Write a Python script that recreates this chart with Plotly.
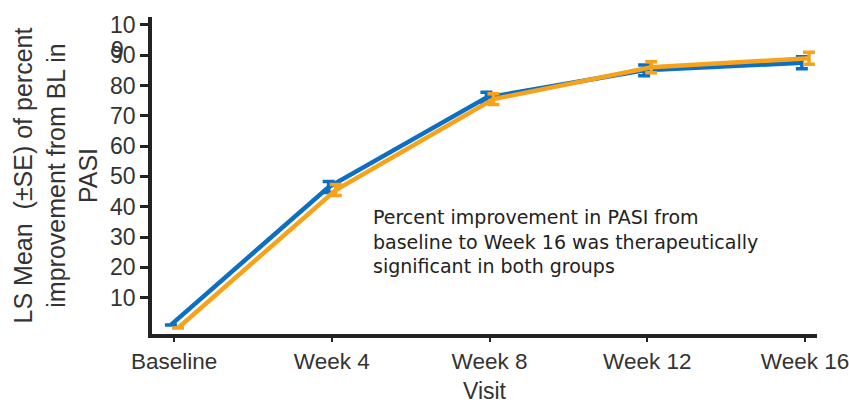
import plotly.graph_objects as go

# Visits and least-squares mean percent improvement in PASI (±SE)
visits = ["Baseline", "Week 4", "Week 8", "Week 12", "Week 16"]
blue_mean = [1.0, 46.5, 76.0, 85.0, 87.5]
blue_se = [0.0, 1.8, 1.8, 1.8, 2.0]
orange_mean = [0.0, 45.5, 75.5, 86.0, 89.0]
orange_se = [0.0, 1.8, 1.8, 1.8, 2.0]

y_tickvals = [10, 20, 30, 40, 50, 60, 70, 80, 90, 100]
y_ticktext = ["10", "20", "30", "40", "50", "60", "70", "80", "90", "10"]

BLUE = "#0b6fc4"
ORANGE = "#f7a21b"
AXIS = "#222222"
TXT = "#333333"

idx = list(range(len(visits)))
x_blue = [i - 0.02 for i in idx]
x_orange = [i + 0.025 for i in idx]

fig = go.Figure()
for xs, ys, es, col in [(x_blue, blue_mean, blue_se, BLUE),
                        (x_orange, orange_mean, orange_se, ORANGE)]:
    fig.add_trace(go.Scatter(
        x=xs, y=ys, mode="lines",
        line=dict(color=col, width=4.5),
        error_y=dict(type="data", array=es, visible=True,
                     color=col, thickness=3.5, width=6),
        showlegend=False,
    ))

fig.add_annotation(
    x=0.33, y=0.41, xref="paper", yref="paper",
    xanchor="left", yanchor="top", align="left", showarrow=False,
    text="Percent improvement in PASI from<br>baseline to Week 16 was therapeutically<br>significant in both groups",
    font=dict(family="DejaVu Sans", size=19, color="#222222"),
)

# stray glyph drawn over the 90 tick label
fig.add_annotation(
    x=-0.036, y=90, xref="paper", yref="y", yshift=5, xshift=-2,
    xanchor="right", yanchor="middle", showarrow=False,
    text="9", font=dict(family="Liberation Sans", size=23, color=TXT),
)

fig.update_layout(
    width=849, height=404,
    margin=dict(l=152, r=32, t=17, b=70, autoexpand=False),
    paper_bgcolor="white", plot_bgcolor="white",
    font=dict(family="Liberation Sans", color=TXT),
    xaxis=dict(
        range=[-0.14, 4.076], tickmode="array", tickvals=idx, ticktext=visits,
        showgrid=False, zeroline=False, showline=True, linecolor=AXIS, linewidth=4,
        ticks="outside", ticklen=4, tickwidth=2, tickcolor=AXIS,
        tickfont=dict(size=22.5, color=TXT), automargin=False,
        ticklabeloverflow="allow",
        title=dict(text="Visit", font=dict(size=23, color=TXT), standoff=18),
    ),
    yaxis=dict(
        range=[-2, 102.6], tickmode="array", tickvals=y_tickvals, ticktext=y_ticktext,
        showgrid=False, zeroline=False, showline=True, linecolor=AXIS, linewidth=3.5,
        ticks="outside", ticklen=8, tickwidth=3, tickcolor=AXIS,
        tickfont=dict(size=23, color=TXT), automargin=False,
        title=dict(text="LS Mean  (±SE) of percent<br>improvement from BL in<br>PASI",
                   font=dict(size=25, color=TXT), standoff=6),
    ),
)

fig.write_html("out.html")
